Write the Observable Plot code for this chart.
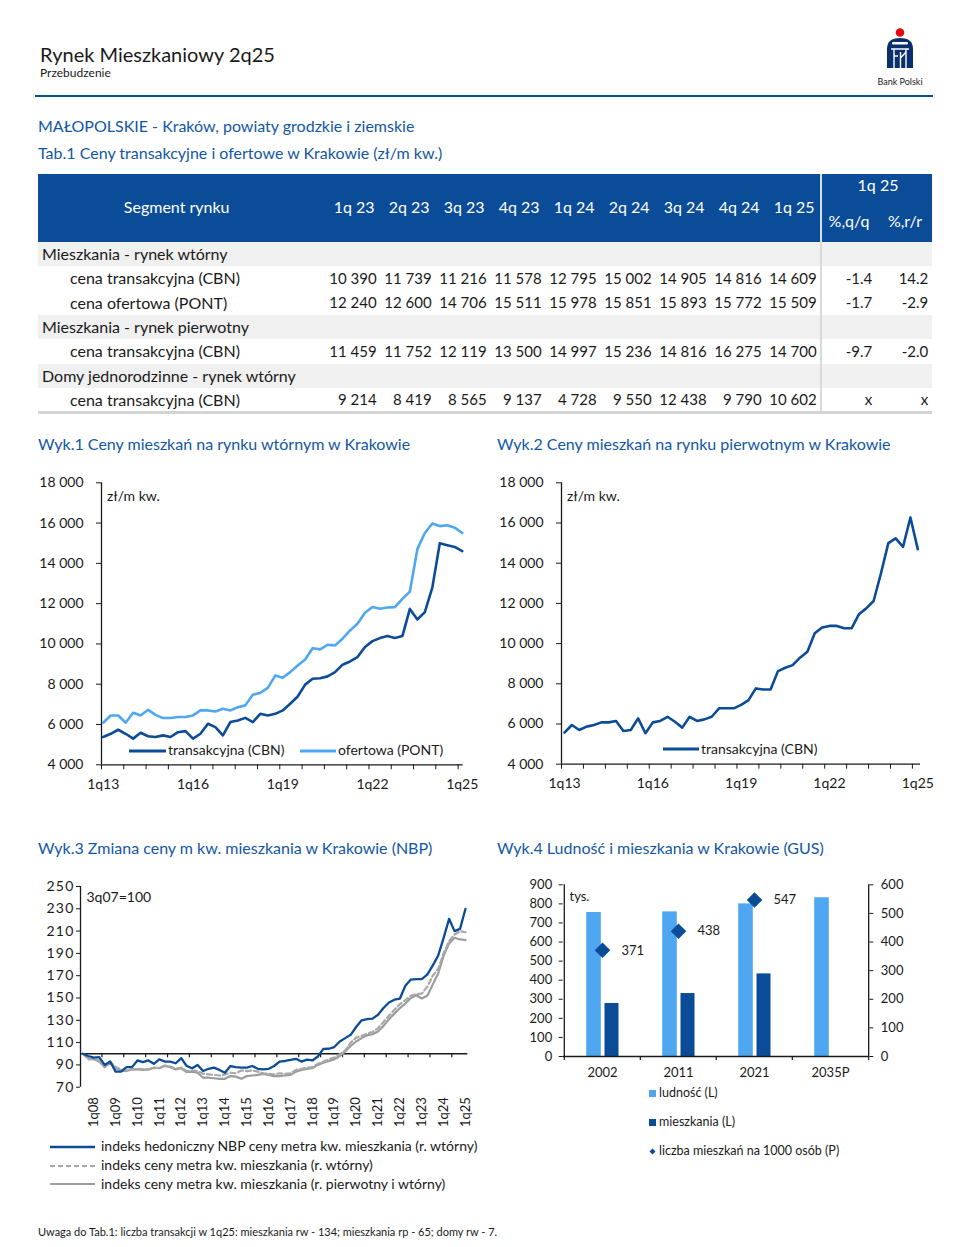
<!DOCTYPE html>
<html><head><meta charset="utf-8">
<script src="https://cdn.jsdelivr.net/npm/d3@7"></script>
<script src="https://cdn.jsdelivr.net/npm/@observablehq/plot@0.6"></script>
<style>
html,body{margin:0;padding:0;background:#fff;}
#page{position:relative;width:972px;height:1247px;overflow:hidden;font-family:Lato,"Noto Sans",sans-serif;color:#1a1a1a;background:#fff;}
.t{position:absolute;white-space:nowrap;}
.s svg{display:block;}
</style></head><body><div id="page"></div>
<script>
// ---------------- DATA ----------------
const tabQuarters = ["1q 23","2q 23","3q 23","4q 23","1q 24","2q 24","3q 24","4q 24","1q 25"];
const tabGroups = ["Mieszkania - rynek wtórny","Mieszkania - rynek pierwotny","Domy jednorodzinne - rynek wtórny"];
const rowWtornyCBN  = [10390,11739,11216,11578,12795,15002,14905,14816,14609];
const rowWtornyPONT = [12240,12600,14706,15511,15978,15851,15893,15772,15509];
const rowPierwCBN   = [11459,11752,12119,13500,14997,15236,14816,16275,14700];
const rowDomyCBN    = [9214,8419,8565,9137,4728,9550,12438,9790,10602];
const rowChanges = [["-1.4","14.2"],["-1.7","-2.9"],["-9.7","-2.0"],["x","x"]];

// Wyk.1 / Wyk.2 : quarterly 1q13 .. 1q25
const xTicks12 = ["1q13","1q16","1q19","1q22","1q25"];
const wtornyCBN = [5380,5540,5740,5540,5300,5590,5420,5380,5460,5380,5620,5670,5300,5540,6040,5870,5460,6120,6200,6330,6120,6530,6450,6530,6700,7030,7390,7980,8270,8300,8390,8600,8970,9130,9350,9850,10140,10290,10400,10300,10390,11739,11216,11578,12795,15002,14905,14816,14609];
const wtornyPONT = [6090,6450,6450,6090,6580,6450,6730,6480,6320,6320,6370,6370,6450,6700,6700,6650,6780,6700,6860,6950,7480,7570,7820,8430,8320,8600,8930,9230,9790,9730,9960,9930,10260,10670,11000,11550,11830,11750,11810,11830,12240,12600,14706,15511,15978,15851,15893,15772,15509];
const pierwotnyCBN = [5570,5950,5700,5870,5950,6080,6080,6150,5650,5700,6280,5540,6080,6150,6360,6110,5820,6360,6150,6230,6360,6780,6780,6780,6950,7190,7770,7720,7720,8630,8800,8930,9300,9600,10510,10800,10880,10880,10760,10760,11459,11752,12119,13500,14997,15236,14816,16275,14700];

// Wyk.3 : quarterly 3q07 .. 1q25 (3q07 = 100)
const xTicks3 = ["1q08","1q09","1q10","1q11","1q12","1q13","1q14","1q15","1q16","1q17","1q18","1q19","1q20","1q21","1q22","1q23","1q24","1q25"];
const nbpHedonic = [100,98,96.5,97,90,93,84,84,88,88,94,92.5,94,91,95,93,93,91.5,96,89,87,90,84.5,86.5,87.5,85.5,83,89,88,87.5,87.5,89,86.5,86,86.5,89,93,93.5,94.5,95.5,93,94.8,94,97.5,104.4,104.5,106,111,114,117,124,130,131,131.5,135,141,146,148.5,149.5,161,166.5,167,167,171,179,188,204,221,210,212,230];
const idxWtorny = [100,95,95.5,94,89.5,93,88,86,85,86,86.5,86,86,87,87.5,89.5,88.5,86.5,87.5,84.5,85,84.5,82,81.5,81,80.5,81.5,83,82.5,85,84.5,85,84,82.5,82,81.5,82.5,82,82.5,85.5,86.5,87.5,88,91,93,95,96.5,99.5,103,110,114.5,116,118,119.5,123,128.5,134,139.5,144.5,148,152,153.5,154,160,170,176,190,201,207,210,209];
const idxRazem = [100,96,95,93,88,92,87,85,84.5,86,86,85.5,86,87.5,87,89,88,86,87,83.5,84,83,78.5,78.5,78,77.5,77.5,80,79.5,77.5,80,80.5,81,82,81,80,80,80.5,81,84,85.5,86.5,87,90,92,93.5,95,98,102,107,111,114,116.5,117.5,120,125,131,136,141,145,150,152.5,149.5,152,162,172,188,199,204,202.5,202];

// Wyk.4
const years = ["2002","2011","2021","2035P"];
const ludnosc = [755,758,800,832];
const mieszkania = [278,330,433,null];
const naTysiac = [371,438,547,null];
const leftMax = 900, rightMax = 600;

// ---------------- HELPERS ----------------
const DARK = "#0b4c98", LIGHT = "#4fa7f2", BLUE_T = "#1257a5", INK = "#1a1a1a";
const page = document.getElementById("page");
function txt(s, x, y, o = {}) {
  const size = o.size || 14;
  const d = document.createElement("div");
  d.className = "t"; d.textContent = s;
  d.style.fontSize = size + "px"; d.style.lineHeight = size + "px";
  d.style.top = (y - 0.52 * size) + "px"; d.style.left = x + "px";
  d.style.color = o.color || INK;
  if (o.ls) d.style.letterSpacing = o.ls + "px";
  if (o.align === "right") d.style.transform = "translateX(-100%)";
  if (o.align === "center") d.style.transform = "translateX(-50%)";
  page.appendChild(d); return d;
}
function box(x, y, w, h, bg) {
  const d = document.createElement("div");
  Object.assign(d.style, {position:"absolute", left:x+"px", top:y+"px", width:w+"px", height:h+"px", background:bg});
  page.appendChild(d); return d;
}
function svgEl(x, y, w, h, inner) {
  const d = document.createElement("div");
  d.className = "s";
  Object.assign(d.style, {position:"absolute", left:x+"px", top:y+"px", width:w+"px", height:h+"px", lineHeight:"0"});
  d.innerHTML = `<svg width="${w}" height="${h}" viewBox="0 0 ${w} ${h}" style="overflow:visible;display:block">${inner}</svg>`;
  page.appendChild(d); return d;
}
function place(svg, x, y) {
  svg.style.position = "absolute"; svg.style.left = x + "px"; svg.style.top = y + "px";
  page.appendChild(svg);
}
const fmt = d => d3.format(",")(d).replace(/,/g, "\u00a0");
const baseStyle = {fontFamily: "Lato, 'Noto Sans', sans-serif", fontSize: "14px", color: INK, background: "transparent", overflow: "visible"};
function qIndex12(lab) { return 4 * (+lab.slice(2) - 13) + (+lab[0] - 1); }
function qIndex3(lab) { return 4 * (+lab.slice(2) - 7) + (+lab[0] - 3); }

// ---------------- HEADER ----------------
txt("Rynek Mieszkaniowy 2q25", 40, 54.5, {size: 20});
txt("Przebudzenie", 40, 73.5, {size: 12});
svgEl(885, 27, 30, 45,
  `<circle cx="15" cy="5.5" r="4.3" fill="#e30613"/>
   <path d="M2,22 Q2,11 15,11 Q28,11 28,22 V41 H2 Z" fill="#0a2f6e"/>
   <rect x="7" y="15" width="16" height="2.6" rx="1.3" fill="#fff"/>
   <path d="M6,22 H24 M9,22 V41 M15.5,25 V41 M21,22 V41 M9,29 H13 M15.5,31 L21,25" stroke="#fff" stroke-width="1.4" fill="none"/>`);
txt("Bank Polski", 900, 82, {size: 9, align: "center"});
box(35, 94.5, 898, 2.5, DARK);

txt("MAŁOPOLSKIE - Kraków, powiaty grodzkie i ziemskie", 38, 126.5, {size: 16, color: BLUE_T});
txt("Tab.1 Ceny transakcyjne i ofertowe w Krakowie (zł/m kw.)", 38, 153.5, {size: 16, color: BLUE_T});

// ---------------- TABLE ----------------
const tL = 38, tR = 932, tTop = 174, tHead = 242, rowH = 24.3, divX = 820;
const valRight = tabQuarters.map((q, k) => 376.7 + 55 * k);
box(tL, tTop, tR - tL, tHead - tTop, "#0b4c98");
txt("Segment rynku", 176.7, 207.3, {size: 16, color: "#fff", align: "center"});
tabQuarters.forEach((q, k) => txt(q, valRight[k] - 22.5, 207.3, {size: 16, color: "#fff", align: "center"}));
txt("1q 25", 878, 185.5, {size: 16, color: "#fff", align: "center"});
txt("%,q/q", 849, 221.5, {size: 16, color: "#fff", align: "center"});
txt("%,r/r", 905, 221.5, {size: 16, color: "#fff", align: "center"});

const body = [
  {g: tabGroups[0]},
  {l: "cena transakcyjna (CBN)", v: rowWtornyCBN, c: rowChanges[0]},
  {l: "cena ofertowa (PONT)", v: rowWtornyPONT, c: rowChanges[1]},
  {g: tabGroups[1]},
  {l: "cena transakcyjna (CBN)", v: rowPierwCBN, c: rowChanges[2]},
  {g: tabGroups[2]},
  {l: "cena transakcyjna (CBN)", v: rowDomyCBN, c: rowChanges[3]}
];
body.forEach((r, k) => {
  const top = tHead + rowH * k, cy = top + rowH / 2 + 0.3;
  if (r.g) {
    box(tL, top, tR - tL, rowH, "#f0f0f0");
    txt(r.g, 42, cy, {size: 16});
  } else {
    txt(r.l, 70, cy, {size: 16});
    r.v.forEach((v, j) => txt(fmt(v), valRight[j], cy, {size: 15, align: "right"}));
    txt(r.c[0], 872.3, cy, {size: 15, align: "right"});
    txt(r.c[1], 928.3, cy, {size: 15, align: "right"});
  }
});
const tBottom = tHead + rowH * body.length;
box(divX, tTop, 2, tHead - tTop, "#d6dde8");
box(divX, tHead, 2, tBottom - tHead + 2, "#d9d9d9");
box(tL, tBottom - 1, tR - tL, 3, "#d4d4d4");

// ---------------- CHART TITLES ----------------
txt("Wyk.1 Ceny mieszkań na rynku wtórnym w Krakowie", 38, 444, {size: 16, color: BLUE_T});
txt("Wyk.2 Ceny mieszkań na rynku pierwotnym w Krakowie", 497, 444, {size: 16, color: BLUE_T});
txt("Wyk.3 Zmiana ceny m kw. mieszkania w Krakowie (NBP)", 38, 848, {size: 16, color: BLUE_T});
txt("Wyk.4 Ludność i mieszkania w Krakowie (GUS)", 497, 848, {size: 16, color: BLUE_T});

// ---------------- WYK.1 & WYK.2 ----------------
function priceChart(series, xd, m) {
  const minorTicks = d3.range(xd[0], xd[1], 2.98);
  return Plot.plot({
    width: 450, height: 335,
    marginLeft: m.l, marginRight: m.r, marginTop: m.t, marginBottom: m.b,
    style: baseStyle,
    x: {type: "linear", domain: xd},
    y: {domain: [4000, 18000]},
    marks: [
      Plot.axisY({ticks: d3.range(4000, 18001, 2000), tickSize: 5, tickPadding: 13, tickFormat: fmt, label: null}),
      Plot.axisX({ticks: minorTicks, tickSize: 5, tickFormat: () => "", label: null}),
      Plot.axisX({ticks: xTicks12.map(qIndex12), tickSize: 0, tickPadding: 14, tickFormat: i => xTicks12[xTicks12.map(qIndex12).indexOf(i)], label: null}),
      Plot.ruleX([xd[0]], {stroke: INK, strokeWidth: 1.3}),
      Plot.ruleY([4000], {stroke: INK, strokeWidth: 1.3}),
      ...series.map(s => Plot.lineY(s.data, {x: (d, i) => i, y: d => d, stroke: s.color, strokeWidth: 2.6, strokeLinejoin: "round"})),
      Plot.text(["zł/m kw."], {text: d => d, frameAnchor: "top-left", dx: 5.5, dy: 13.7, lineAnchor: "middle", fontSize: 14, fill: INK})
    ]
  });
}
place(priceChart([{data: wtornyPONT, color: LIGHT}, {data: wtornyCBN, color: DARK}], [-0.23, 48.13], {l: 71, r: 17.3, t: 17.3, b: 35.7}), 30, 465);
place(priceChart([{data: pierwotnyCBN, color: DARK}], [-0.41, 48.37], {l: 71, r: 20, t: 17.3, b: 36.3}), 490, 465);

function legLine(x1, x2, y, color, w, dash) {
  svgEl(x1, y - 3, x2 - x1, 6, `<line x1="0" y1="3" x2="${x2 - x1}" y2="3" stroke="${color}" stroke-width="${w}" ${dash ? `stroke-dasharray="${dash}"` : ""}/>`);
}
legLine(129, 166, 750.7, DARK, 2.8); txt("transakcyjna (CBN)", 168, 750.7, {size: 14});
legLine(300, 336, 750.7, LIGHT, 2.8); txt("ofertowa (PONT)", 338, 750.7, {size: 14});
legLine(663, 699, 749, DARK, 2.8); txt("transakcyjna (CBN)", 701, 749, {size: 14});

// ---------------- WYK.3 ----------------
{
  const xd = [-0.42, 70.42];
  const H = 260, mT = 16, mB = 43.3;
  const pxu = (H - mT - mB) / 180;
  const c3 = Plot.plot({
    width: 450, height: H, marginLeft: 50, marginRight: 12.7, marginTop: mT, marginBottom: mB,
    style: baseStyle,
    x: {type: "linear", domain: xd},
    y: {domain: [70, 250]},
    marks: [
      Plot.axisY({ticks: d3.range(70, 251, 20), tickSize: 4, tickPadding: 2, label: null, fontSize: 14}),
      Plot.axisX({ticks: xTicks3.map(qIndex3), tickSize: 0, tickPadding: 10, tickRotate: -90, tickFormat: i => xTicks3[xTicks3.map(qIndex3).indexOf(i)], label: null, fontSize: 13}),
      Plot.ruleX([xd[0]], {stroke: INK, strokeWidth: 1.3}),
      Plot.ruleY([100], {stroke: INK, strokeWidth: 1.3}),
      Plot.ruleX(d3.range(3.5, 70, 4), {x: d => d, y1: 100, y2: 100 - 4 / pxu, stroke: INK, strokeWidth: 1.2}),
      Plot.lineY(idxRazem, {x: (d, i) => i, y: d => d, stroke: "#9c9c9c", strokeWidth: 2.2}),
      Plot.lineY(idxWtorny, {x: (d, i) => i, y: d => d, stroke: "#a8a8a8", strokeWidth: 2.2, strokeDasharray: "5,3"}),
      Plot.lineY(nbpHedonic, {x: (d, i) => i, y: d => d, stroke: DARK, strokeWidth: 2.3, strokeLinejoin: "round"}),
      Plot.text(["3q07=100"], {text: d => d, frameAnchor: "top-left", dx: 6, dy: 10.7, lineAnchor: "middle", fontSize: 14, fill: INK})
    ]
  });
  d3.select(c3).selectAll('[aria-label="y-axis tick label"] text').attr("letter-spacing", 1.2);
  place(c3, 30, 870);
}
legLine(50, 95, 1146.7, DARK, 2.4); txt("indeks hedoniczny NBP ceny metra kw. mieszkania (r. wtórny)", 101, 1146.7, {size: 14});
legLine(50, 95, 1165.7, "#a8a8a8", 2.2, "5,3"); txt("indeks ceny metra kw. mieszkania (r. wtórny)", 101, 1165.7, {size: 14});
legLine(50, 95, 1184, "#9c9c9c", 2.2); txt("indeks ceny metra kw. mieszkania (r. pierwotny i wtórny)", 101, 1184, {size: 14});

// ---------------- WYK.4 ----------------
{
  const W = 450, H = 215, mL = 72.7, mR = 71.7, mT = 14.3, mB = 29;
  const bw = (W - mL - mR) / years.length, ph = H - mT - mB;
  const ratio = leftMax / rightMax;
  const d4 = years.map((y, i) => ({year: y, lud: ludnosc[i], mie: mieszkania[i], per: naTysiac[i]}));
  const c4 = Plot.plot({
    width: W, height: H, marginLeft: mL, marginRight: mR, marginTop: mT, marginBottom: mB,
    style: {...baseStyle, fontSize: "13px"},
    x: {type: "band", domain: years, padding: 0},
    y: {domain: [0, leftMax]},
    marks: [
      Plot.barY(d4, {x: "year", y: "lud", fill: LIGHT, insetLeft: bw / 2 - 16, insetRight: bw / 2 + 1}),
      Plot.barY(d4.filter(d => d.mie != null), {x: "year", y: "mie", fill: DARK, insetLeft: bw / 2 + 2.3, insetRight: bw / 2 - 16.7}),
      Plot.axisY({anchor: "left", ticks: d3.range(0, leftMax + 1, 100), tickSize: 4, tickPadding: 7, label: null}),
      Plot.axisY({anchor: "right", ticks: d3.range(0, leftMax + 1, 100 * ratio), tickFormat: d => Math.round(d / ratio), tickSize: 4, tickPadding: 8, label: null}),
      Plot.axisX({tickSize: 0, tickPadding: 11, label: null}),
      Plot.ruleY([0], {stroke: INK, strokeWidth: 1.3}),
      Plot.ruleX([years[0]], {dx: -bw / 2, stroke: INK, strokeWidth: 1.3}),
      Plot.ruleX([years[years.length - 1]], {dx: bw / 2, stroke: INK, strokeWidth: 1.3}),
      Plot.tickX(years, {x: d => d, dx: -bw / 2, insetTop: ph, insetBottom: -4, stroke: INK, strokeWidth: 1.2}),
      Plot.tickX([years[years.length - 1]], {x: d => d, dx: bw / 2, insetTop: ph, insetBottom: -4, stroke: INK, strokeWidth: 1.2}),
      Plot.dot(d4.filter(d => d.per != null), {x: "year", y: d => d.per * ratio, symbol: "diamond2", r: 7, fill: DARK, stroke: "none"}),
      Plot.text(d4.filter(d => d.per != null), {x: "year", y: d => d.per * ratio, text: d => String(d.per), dx: 19, textAnchor: "start", fontSize: 13, fill: INK}),
      Plot.text(["tys."], {text: d => d, frameAnchor: "top-left", dx: 6.3, dy: 11.7, lineAnchor: "middle", fontSize: 13, fill: INK})
    ]
  });
  place(c4, 490, 870);
}
svgEl(649, 1093.3 - 3.5, 7, 7, `<rect width="7" height="7" fill="${LIGHT}"/>`); txt("ludność (L)", 659, 1093.3, {size: 12.5});
svgEl(649, 1122.7 - 3.5, 7, 7, `<rect width="7" height="7" fill="${DARK}"/>`); txt("mieszkania (L)", 659, 1122.7, {size: 12.5});
svgEl(649, 1151.7 - 3.5, 7, 7, `<path d="M3.5,0.5 L6.5,3.5 L3.5,6.5 L0.5,3.5 Z" fill="${DARK}"/>`); txt("liczba mieszkań na 1000 osób (P)", 659, 1151.7, {size: 12.5});

// ---------------- FOOTNOTE ----------------
txt("Uwaga do Tab.1: liczba transakcji w 1q25: mieszkania rw - 134; mieszkania rp - 65; domy rw - 7.", 38, 1232, {size: 11});
</script></body></html>
